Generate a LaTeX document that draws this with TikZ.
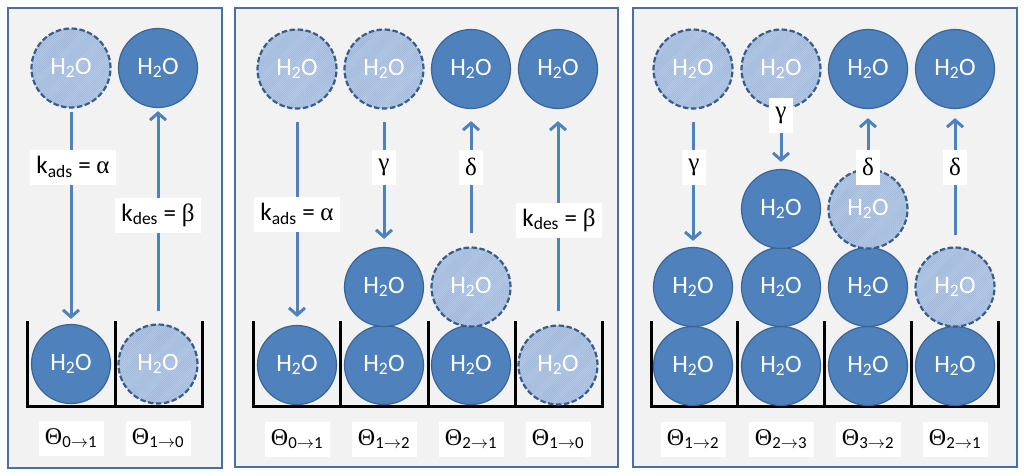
\documentclass[tikz,border=0pt]{standalone}
\usepackage{fontspec}
\setmainfont{Carlito}
\newfontfamily\greekfont{Liberation Serif}
\usepackage{xcolor}
\usetikzlibrary{arrows.meta,positioning,patterns.meta}

\definecolor{panelfill}{HTML}{F2F2F2}
\definecolor{panelline}{HTML}{4A6FA5}
\definecolor{wetblue}{HTML}{4F81BD}
\definecolor{wetedge}{HTML}{3A6595}
\definecolor{drybase}{HTML}{BACDE8}
\definecolor{dryhatch}{HTML}{97B1D7}
\definecolor{dryedge}{HTML}{385D8A}
\definecolor{flowblue}{HTML}{4F81BD}

\begin{document}
\begin{tikzpicture}[
    x=1pt, y=-1pt,
    panel/.style={
        draw=panelline,
        line width=2pt,
        fill=panelfill
    },
    molecule/.style={
        circle,
        draw=wetedge,
        line width=1.2pt,
        fill=wetblue,
        minimum size=79pt,
        inner sep=0pt,
        text=white,
        font=\fontsize{25}{28}\selectfont
    },
    vacancy/.style={
        molecule,
        draw=dryedge,
        line width=2.2pt,
        dash pattern=on 5.5pt off 2.5pt,
        preaction={fill=drybase},
        pattern={Lines[angle=45,distance=1.4pt,line width=0.45pt]},
        pattern color=dryhatch
    },
    rate/.style={
        fill=white,
        inner xsep=6pt,
        minimum height=35pt,
        font=\fontsize{25}{28}\selectfont
    },
    theta/.style={
        fill=white,
        minimum width=65pt,
        minimum height=35pt,
        font=\fontsize{24}{27}\selectfont
    },
    bucket/.style={
        draw=black,
        line width=3pt,
        line join=miter
    },
    flow/.style={
        draw=flowblue,
        line width=3pt,
        -{Straight Barb[length=7pt,width=16pt]}
    }
]

\fill[white] (0,0) rectangle (1024,475);
\useasboundingbox (0,0) rectangle (1024,475);

% Three panels
\draw[panel] (8,8) rectangle (222,468);
\draw[panel] (235,8) rectangle (618,467);
\draw[panel] (633,8) rectangle (1017,467);

% Buckets
\draw[bucket] (27,321) -- (27,406) -- (202,406) -- (202,321);
\draw[bucket] (115,321) -- (115,406);

\draw[bucket] (253,321) -- (253,406) -- (602,406) -- (602,321);
\foreach \x in {340,428,515}
    \draw[bucket] (\x,321) -- (\x,406);

\draw[bucket] (651,321) -- (651,406) -- (998,406) -- (998,321);
\foreach \x in {737,824,911}
    \draw[bucket] (\x,321) -- (\x,406);

% Panel 1: single layer
\node[vacancy]  (A1t) at (71,68)   {H\textsubscript{2}O};
\node[molecule] (A2t) at (158,68)  {H\textsubscript{2}O};
\node[molecule] (A1b) at (71,364)  {H\textsubscript{2}O};
\node[vacancy]  (A2b) at (158,364) {H\textsubscript{2}O};

\draw[flow, shorten <=4pt, shorten >=5pt] (A1t.south) -- (A1b.north);
\draw[flow, shorten <=12pt, shorten >=3pt] (A2b.north) -- (A2t.south);

\node[rate] (kadsA) at (73,167)  {k\textsubscript{ads} = {\greekfont α}};
\node[rate] (kdesA) at (158,215) {k\textsubscript{des} = {\greekfont β}};

\node[theta] (thA1) at (71,438)  {{\greekfont Θ}\textsubscript{0$\rightarrow$1}};
\node[theta] (thA2) at (158,438) {{\greekfont Θ}\textsubscript{1$\rightarrow$0}};

% Panel 2: second layer
\node[vacancy]  (B1t) at (297,69) {H\textsubscript{2}O};
\node[vacancy]  (B2t) at (384,69) {H\textsubscript{2}O};
\node[molecule] (B3t) at (471,69) {H\textsubscript{2}O};
\node[molecule] (B4t) at (558,69) {H\textsubscript{2}O};

\node[molecule] (B1a) at (297,365) {H\textsubscript{2}O};
\node[molecule] (B2a) at (384,365) {H\textsubscript{2}O};
\node[molecule] (B3a) at (471,365) {H\textsubscript{2}O};
\node[vacancy]  (B4a) at (558,365) {H\textsubscript{2}O};

\node[molecule] (B2b) at (384,287) {H\textsubscript{2}O};
\node[vacancy]  (B3b) at (471,287) {H\textsubscript{2}O};

\draw[flow, shorten <=12pt, shorten >=8pt] (B1t.south) -- (B1a.north);
\draw[flow, shorten <=12pt, shorten >=8pt] (B2t.south) -- (B2b.north);
\draw[flow, shorten <=13pt, shorten >=12pt] (B3b.north) -- (B3t.south);
\draw[flow, shorten <=13pt, shorten >=12pt] (B4a.north) -- (B4t.south);

\node[rate] (kadsB) at (297,214) {k\textsubscript{ads} = {\greekfont α}};
\node[rate] (gamB)  at (384,167) {{\greekfont γ}};
\node[rate] (delB)  at (471,167) {{\greekfont δ}};
\node[rate] (kdesB) at (559,220) {k\textsubscript{des} = {\greekfont β}};

\node[theta] (thB1) at (297,439) {{\greekfont Θ}\textsubscript{0$\rightarrow$1}};
\node[theta] (thB2) at (384,439) {{\greekfont Θ}\textsubscript{1$\rightarrow$2}};
\node[theta] (thB3) at (471,439) {{\greekfont Θ}\textsubscript{2$\rightarrow$1}};
\node[theta] (thB4) at (558,439) {{\greekfont Θ}\textsubscript{1$\rightarrow$0}};

% Panel 3: third layer
\node[vacancy]  (C1t) at (693,69) {H\textsubscript{2}O};
\node[vacancy]  (C2t) at (781,69) {H\textsubscript{2}O};
\node[molecule] (C3t) at (868,69) {H\textsubscript{2}O};
\node[molecule] (C4t) at (955,69) {H\textsubscript{2}O};

\node[molecule] (C1a) at (693,366) {H\textsubscript{2}O};
\node[molecule] (C2a) at (781,366) {H\textsubscript{2}O};
\node[molecule] (C3a) at (868,366) {H\textsubscript{2}O};
\node[molecule] (C4a) at (955,366) {H\textsubscript{2}O};

\node[molecule] (C1b) at (693,287) {H\textsubscript{2}O};
\node[molecule] (C2b) at (781,287) {H\textsubscript{2}O};
\node[molecule] (C3b) at (868,287) {H\textsubscript{2}O};
\node[vacancy]  (C4b) at (955,287) {H\textsubscript{2}O};

\node[molecule] (C2c) at (781,209) {H\textsubscript{2}O};
\node[vacancy]  (C3c) at (868,209) {H\textsubscript{2}O};

\draw[flow, shorten <=12pt, shorten >=6pt] (C1t.south) -- (C1b.north);
\draw[flow, shorten <=20pt, shorten >=7pt] (C2t.south) -- (C2c.north);
\draw[flow, shorten <=10pt, shorten >=9pt] (C3c.north) -- (C3t.south);
\draw[flow, shorten <=11pt, shorten >=9pt] (C4b.north) -- (C4t.south);

\node[rate] (gamC1) at (694,167) {{\greekfont γ}};
\node[rate] (gamC2) at (781,115) {{\greekfont γ}};
\node[rate] (delC3) at (868,167) {{\greekfont δ}};
\node[rate] (delC4) at (955,167) {{\greekfont δ}};

\node[theta] (thC1) at (693,439) {{\greekfont Θ}\textsubscript{1$\rightarrow$2}};
\node[theta] (thC2) at (781,439) {{\greekfont Θ}\textsubscript{2$\rightarrow$3}};
\node[theta] (thC3) at (868,439) {{\greekfont Θ}\textsubscript{3$\rightarrow$2}};
\node[theta] (thC4) at (955,439) {{\greekfont Θ}\textsubscript{2$\rightarrow$1}};

\end{tikzpicture}
\end{document}
